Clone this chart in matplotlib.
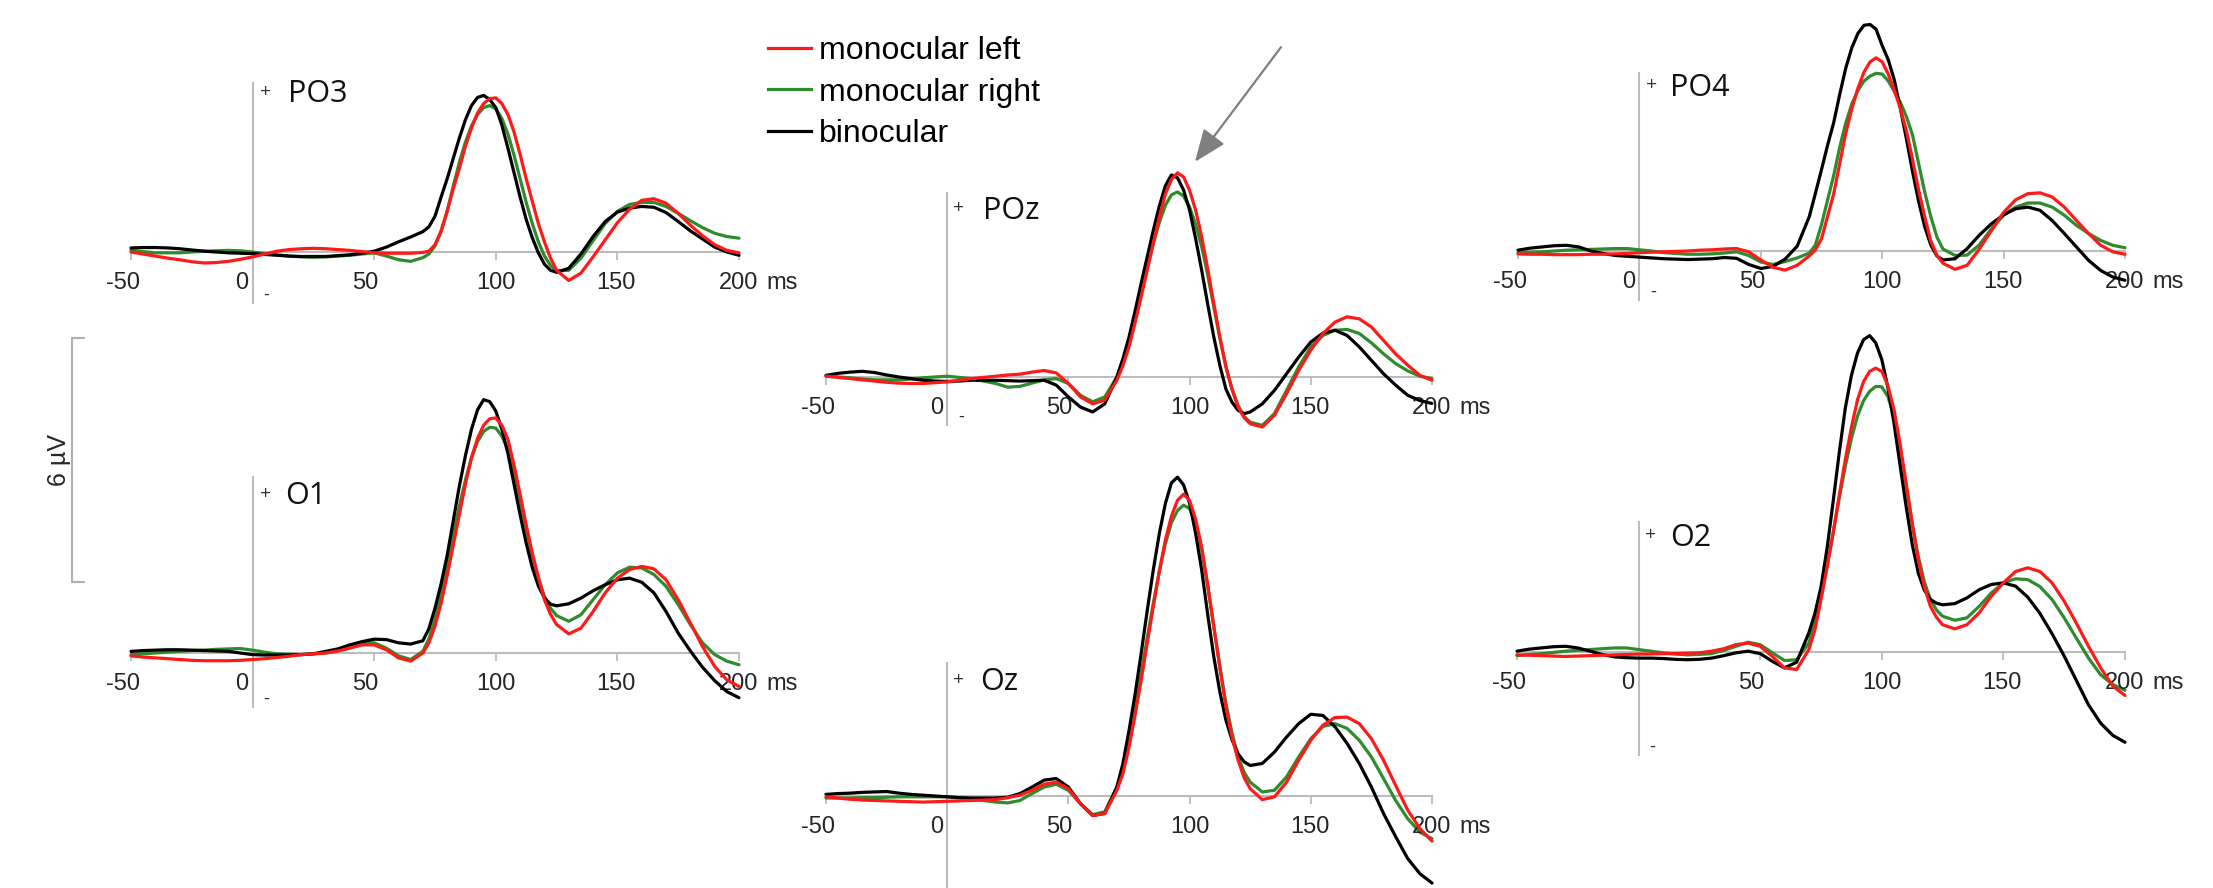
import matplotlib
matplotlib.use('Agg')
import matplotlib.pyplot as plt
from matplotlib.lines import Line2D

W, H = 2213, 888
PX_PER_UV = 40.67          # vertical scale shared by all panels

# ---------------- data (µV) ----------------
# 5 ms steps, 2.5 ms steps around the P1 peak (70-125 ms)
TIME_MS = ([-50, -45, -40, -35, -30, -25, -20, -15, -10, -5,
            0, 5, 10, 15, 20, 25, 30, 35, 40, 45, 50, 55, 60, 65]
           + [70, 72.5, 75, 77.5, 80, 82.5, 85, 87.5, 90, 92.5, 95, 97.5,
              100, 102.5, 105, 107.5, 110, 112.5, 115, 117.5, 120, 122.5, 125]
           + [130, 135, 140, 145, 150, 155, 160, 165, 170, 175, 180, 185, 190, 195, 200])
TICKS_MS = [-50, 0, 50, 100, 150, 200]
SCALE_UV = 6

PO3_LEFT = ([0.00, -0.05, -0.10, -0.15, -0.19, -0.24, -0.27, -0.26, -0.23, -0.18,
             -0.12, -0.05, 0.02, 0.06, 0.08, 0.09, 0.08, 0.06, 0.04, 0.01, -0.02, -0.03, -0.03, -0.03]
            + [-0.01, 0.02, 0.18, 0.50, 1.00, 1.55, 2.05, 2.60, 3.05, 3.42, 3.65, 3.77,
               3.79, 3.65, 3.38, 2.95, 2.40, 1.80, 1.25, 0.70, 0.25, -0.15, -0.45]
            + [-0.70, -0.52, -0.12, 0.30, 0.72, 1.05, 1.27, 1.31, 1.20, 0.95, 0.66, 0.40, 0.18, 0.04, -0.02])
PO3_RIGHT = ([0.04, 0.01, -0.02, -0.02, -0.02, 0.00, 0.02, 0.03, 0.04, 0.03,
              0.00, -0.04, -0.07, -0.10, -0.12, -0.13, -0.12, -0.10, -0.08, -0.05, -0.02, -0.10, -0.19, -0.23]
             + [-0.14, -0.05, 0.15, 0.52, 1.00, 1.62, 2.20, 2.70, 3.10, 3.38, 3.55, 3.60,
                3.52, 3.28, 2.90, 2.38, 1.80, 1.22, 0.70, 0.25, -0.10, -0.33, -0.46]
             + [-0.45, -0.15, 0.28, 0.70, 1.00, 1.17, 1.22, 1.22, 1.12, 0.95, 0.77, 0.60, 0.46, 0.38, 0.34])
PO3_BINO = ([0.10, 0.11, 0.11, 0.10, 0.08, 0.05, 0.02, 0.00, -0.02, -0.03,
             -0.04, -0.06, -0.08, -0.10, -0.11, -0.11, -0.11, -0.09, -0.07, -0.03, 0.02, 0.12, 0.25, 0.37]
            + [0.50, 0.62, 0.88, 1.35, 1.80, 2.30, 2.80, 3.25, 3.60, 3.80, 3.85, 3.75,
               3.55, 3.12, 2.55, 1.95, 1.35, 0.80, 0.35, -0.02, -0.30, -0.45, -0.50]
            + [-0.40, -0.05, 0.38, 0.75, 0.98, 1.08, 1.12, 1.10, 0.97, 0.75, 0.52, 0.32, 0.12, 0.00, -0.08])

O1_LEFT = ([-0.07, -0.10, -0.12, -0.14, -0.16, -0.18, -0.19, -0.19, -0.19, -0.18,
            -0.16, -0.14, -0.11, -0.08, -0.04, -0.02, 0.00, 0.05, 0.12, 0.20, 0.20, 0.08, -0.12, -0.20]
           + [0.00, 0.25, 0.66, 1.22, 1.90, 2.65, 3.40, 4.15, 4.80, 5.28, 5.60, 5.76,
              5.78, 5.60, 5.25, 4.62, 3.90, 3.15, 2.46, 1.85, 1.31, 0.95, 0.70]
           + [0.47, 0.61, 1.02, 1.48, 1.84, 2.05, 2.13, 2.07, 1.80, 1.31, 0.74, 0.16, -0.33, -0.66, -0.82])
O1_RIGHT = ([-0.04, -0.02, 0.00, 0.02, 0.04, 0.06, 0.07, 0.09, 0.10, 0.11,
             0.07, 0.02, -0.02, -0.03, -0.04, -0.02, 0.00, 0.05, 0.12, 0.25, 0.25, 0.12, -0.07, -0.16]
            + [0.04, 0.35, 0.82, 1.45, 2.13, 2.90, 3.60, 4.25, 4.80, 5.20, 5.45, 5.55,
               5.53, 5.33, 5.00, 4.42, 3.77, 3.05, 2.38, 1.85, 1.39, 1.10, 0.92]
            + [0.78, 0.94, 1.31, 1.68, 1.97, 2.11, 2.09, 1.93, 1.64, 1.19, 0.70, 0.25, -0.04, -0.20, -0.29])
O1_BINO = ([0.04, 0.06, 0.07, 0.08, 0.08, 0.07, 0.06, 0.05, 0.04, 0.00,
            -0.04, -0.05, -0.05, -0.05, -0.04, -0.02, 0.04, 0.10, 0.20, 0.28, 0.34, 0.33, 0.25, 0.22]
           + [0.30, 0.60, 1.10, 1.70, 2.40, 3.25, 4.10, 4.85, 5.50, 5.98, 6.23, 6.18,
              5.95, 5.50, 4.90, 4.15, 3.40, 2.70, 2.10, 1.65, 1.35, 1.20, 1.16]
           + [1.21, 1.35, 1.53, 1.68, 1.80, 1.84, 1.74, 1.48, 1.02, 0.49, 0.05, -0.35, -0.68, -0.95, -1.10])

POZ_LEFT = ([0.02, -0.01, -0.04, -0.07, -0.10, -0.13, -0.15, -0.16, -0.16, -0.14,
             -0.12, -0.08, -0.04, -0.01, 0.02, 0.05, 0.07, 0.12, 0.16, 0.10, -0.16, -0.49, -0.66, -0.57]
            + [-0.08, 0.28, 0.74, 1.33, 1.97, 2.62, 3.28, 3.92, 4.50, 4.85, 5.02, 4.92,
               4.59, 4.10, 3.44, 2.65, 1.80, 0.98, 0.25, -0.30, -0.74, -1.00, -1.15]
            + [-1.23, -0.94, -0.41, 0.16, 0.66, 1.07, 1.35, 1.48, 1.43, 1.23, 0.90, 0.57, 0.29, 0.04, -0.08])
POZ_RIGHT = ([0.02, 0.00, -0.02, -0.05, -0.07, -0.07, -0.07, -0.05, -0.02, 0.00,
              0.02, -0.01, -0.04, -0.10, -0.16, -0.25, -0.23, -0.15, -0.07, -0.04, -0.16, -0.45, -0.61, -0.49]
             + [0.00, 0.42, 0.90, 1.50, 2.13, 2.72, 3.28, 3.80, 4.22, 4.48, 4.55, 4.45,
                4.18, 3.75, 3.20, 2.50, 1.72, 0.95, 0.25, -0.30, -0.70, -0.97, -1.11]
             + [-1.19, -0.90, -0.33, 0.25, 0.74, 1.02, 1.15, 1.17, 1.07, 0.84, 0.57, 0.33, 0.15, 0.02, -0.04])
POZ_BINO = ([0.04, 0.09, 0.12, 0.14, 0.11, 0.05, 0.00, -0.04, -0.08, -0.10,
             -0.11, -0.10, -0.08, -0.08, -0.08, -0.09, -0.10, -0.09, -0.08, -0.20, -0.49, -0.74, -0.86, -0.66]
            + [0.00, 0.45, 0.98, 1.62, 2.30, 2.95, 3.60, 4.20, 4.70, 4.97, 4.90, 4.60,
               4.10, 3.40, 2.62, 1.78, 0.98, 0.28, -0.30, -0.62, -0.82, -0.90, -0.86]
            + [-0.66, -0.33, 0.08, 0.49, 0.86, 1.08, 1.15, 1.02, 0.74, 0.41, 0.08, -0.20, -0.45, -0.58, -0.65])

OZ_LEFT = ([-0.02, -0.05, -0.08, -0.10, -0.11, -0.12, -0.13, -0.14, -0.15, -0.14,
            -0.13, -0.12, -0.11, -0.10, -0.09, -0.04, 0.02, 0.14, 0.29, 0.34, 0.18, -0.19, -0.48, -0.43]
           + [0.14, 0.55, 1.20, 1.98, 2.84, 3.75, 4.65, 5.52, 6.29, 6.88, 7.27, 7.42,
              7.27, 6.80, 6.12, 5.18, 4.16, 3.15, 2.19, 1.45, 0.88, 0.45, 0.18]
           + [-0.09, -0.02, 0.34, 0.88, 1.37, 1.74, 1.93, 1.94, 1.78, 1.41, 0.88, 0.26, -0.35, -0.80, -1.11])
OZ_RIGHT = ([-0.05, -0.05, -0.05, -0.04, -0.04, -0.03, -0.02, -0.02, -0.02, -0.02,
             -0.02, -0.04, -0.07, -0.11, -0.15, -0.17, -0.11, 0.06, 0.22, 0.29, 0.14, -0.19, -0.46, -0.39]
            + [0.22, 0.72, 1.37, 2.15, 3.00, 3.88, 4.73, 5.52, 6.20, 6.72, 7.02, 7.15,
               7.07, 6.68, 6.04, 5.15, 4.16, 3.18, 2.27, 1.55, 0.96, 0.58, 0.34]
            + [0.10, 0.14, 0.47, 0.96, 1.41, 1.71, 1.78, 1.66, 1.37, 0.96, 0.43, -0.11, -0.56, -0.89, -1.05])
OZ_BINO = ([0.04, 0.06, 0.07, 0.09, 0.10, 0.11, 0.07, 0.04, 0.02, 0.00,
            -0.02, -0.04, -0.05, -0.05, -0.05, -0.03, 0.06, 0.22, 0.39, 0.43, 0.22, -0.19, -0.48, -0.43]
           + [0.22, 0.80, 1.61, 2.50, 3.50, 4.55, 5.55, 6.45, 7.19, 7.70, 7.84, 7.65,
              7.20, 6.45, 5.55, 4.45, 3.42, 2.55, 1.86, 1.38, 1.04, 0.84, 0.75]
           + [0.80, 1.08, 1.45, 1.78, 2.01, 1.98, 1.70, 1.29, 0.80, 0.22, -0.43, -1.00, -1.54, -1.91, -2.14])

PO4_LEFT = ([-0.07, -0.08, -0.08, -0.09, -0.09, -0.09, -0.08, -0.08, -0.07, -0.06,
             -0.04, -0.03, -0.02, -0.01, 0.00, 0.02, 0.03, 0.05, 0.06, -0.02, -0.22, -0.40, -0.47, -0.35]
            + [-0.12, 0.03, 0.30, 0.85, 1.40, 2.15, 2.90, 3.50, 4.00, 4.40, 4.65, 4.75,
               4.65, 4.35, 3.95, 3.50, 2.95, 2.25, 1.50, 0.85, 0.25, -0.10, -0.30]
            + [-0.45, -0.35, 0.05, 0.50, 0.95, 1.26, 1.41, 1.43, 1.33, 1.08, 0.75, 0.43, 0.14, -0.02, -0.08])
PO4_RIGHT = ([-0.05, -0.03, -0.02, 0.00, 0.02, 0.03, 0.04, 0.05, 0.06, 0.06,
              0.03, 0.00, -0.04, -0.06, -0.08, -0.08, -0.07, -0.05, -0.02, -0.11, -0.27, -0.33, -0.26, -0.17]
             + [-0.05, 0.15, 0.65, 1.25, 1.85, 2.55, 3.15, 3.62, 3.95, 4.18, 4.30, 4.37,
                4.35, 4.18, 3.92, 3.65, 3.30, 2.85, 2.15, 1.45, 0.85, 0.35, 0.05]
             + [-0.11, -0.10, 0.15, 0.55, 0.88, 1.08, 1.18, 1.18, 1.08, 0.88, 0.63, 0.43, 0.26, 0.14, 0.08])
PO4_BINO = ([0.02, 0.07, 0.10, 0.13, 0.14, 0.10, 0.00, -0.06, -0.11, -0.13,
             -0.15, -0.17, -0.19, -0.20, -0.21, -0.20, -0.19, -0.16, -0.18, -0.33, -0.43, -0.38, -0.20, 0.12]
            + [0.85, 1.42, 2.00, 2.60, 3.15, 3.85, 4.50, 5.00, 5.35, 5.55, 5.57, 5.45,
               5.05, 4.70, 4.20, 3.50, 2.75, 1.95, 1.22, 0.60, 0.15, -0.12, -0.22]
            + [-0.19, 0.06, 0.39, 0.67, 0.89, 1.04, 1.08, 1.00, 0.75, 0.43, 0.10, -0.23, -0.48, -0.64, -0.72])

O2_LEFT = ([-0.07, -0.08, -0.09, -0.10, -0.11, -0.10, -0.09, -0.08, -0.07, -0.06,
            -0.05, -0.05, -0.04, -0.04, -0.03, -0.02, 0.02, 0.08, 0.18, 0.22, 0.14, -0.11, -0.39, -0.43]
           + [0.06, 0.55, 1.29, 2.08, 2.93, 3.85, 4.73, 5.52, 6.20, 6.65, 6.90, 6.98,
              6.90, 6.55, 5.96, 5.12, 4.16, 3.18, 2.27, 1.60, 1.12, 0.85, 0.67]
           + [0.57, 0.67, 0.96, 1.37, 1.70, 1.98, 2.07, 1.98, 1.70, 1.25, 0.71, 0.14, -0.39, -0.84, -1.07])
O2_RIGHT = ([-0.09, -0.06, -0.04, -0.01, 0.02, 0.04, 0.06, 0.08, 0.10, 0.10,
             0.06, 0.02, -0.02, -0.05, -0.07, -0.06, -0.04, 0.04, 0.14, 0.24, 0.18, -0.02, -0.21, -0.19]
            + [0.22, 0.72, 1.37, 2.12, 2.93, 3.78, 4.57, 5.25, 5.80, 6.18, 6.41, 6.53,
               6.52, 6.28, 5.80, 5.00, 4.07, 3.15, 2.35, 1.72, 1.29, 1.03, 0.88]
            + [0.78, 0.84, 1.12, 1.45, 1.70, 1.80, 1.78, 1.61, 1.29, 0.84, 0.34, -0.15, -0.56, -0.80, -0.94])
O2_BINO = ([0.02, 0.07, 0.10, 0.13, 0.14, 0.10, 0.02, -0.06, -0.12, -0.14,
            -0.15, -0.15, -0.16, -0.18, -0.19, -0.18, -0.15, -0.09, -0.02, 0.02, -0.04, -0.23, -0.39, -0.25]
           + [0.47, 0.95, 1.60, 2.55, 3.70, 4.90, 6.00, 6.80, 7.35, 7.68, 7.78, 7.60,
              7.19, 6.50, 5.63, 4.60, 3.58, 2.65, 1.94, 1.52, 1.29, 1.20, 1.16]
           + [1.19, 1.33, 1.53, 1.66, 1.70, 1.62, 1.35, 0.95, 0.45, -0.10, -0.70, -1.30, -1.75, -2.05, -2.22])

SERIES = {
    'PO3': (PO3_LEFT, PO3_RIGHT, PO3_BINO),
    'O1': (O1_LEFT, O1_RIGHT, O1_BINO),
    'POz': (POZ_LEFT, POZ_RIGHT, POZ_BINO),
    'Oz': (OZ_LEFT, OZ_RIGHT, OZ_BINO),
    'PO4': (PO4_LEFT, PO4_RIGHT, PO4_BINO),
    'O2': (O2_LEFT, O2_RIGHT, O2_BINO),
}
CONDITIONS = ['monocular left', 'monocular right', 'binocular']

# ---------------- layout (pixels in the 2213x888 canvas) ----------------
# x0/x1: pixel x of -50 / 200 ms, yb: baseline, top/bot: ends of the vertical axis
PANELS = {
    'PO3': dict(x0=131, x1=739, yb=252, top=83, bot=303, plus=(13, -9), name=(35, -11), minus=True),
    'O1': dict(x0=131, x1=739, yb=653, top=477, bot=707, plus=(13, -17), name=(33, -19), minus=True),
    'POz': dict(x0=826, x1=1432, yb=377, top=193, bot=425, plus=(11, -15), name=(36, -18), minus=True),
    'Oz': dict(x0=826, x1=1432, yb=796, top=663, bot=900, plus=(11, -17), name=(33, -19), minus=False),
    'PO4': dict(x0=1518, x1=2125, yb=251, top=73, bot=300, plus=(12, -12), name=(31, -15), minus=True),
    'O2': dict(x0=1517, x1=2125, yb=652, top=522, bot=755, plus=(12, -13), name=(32, -16), minus=True),
}
LABEL_DX = {-50: -8, 0: -4, 50: -9, 100: 0, 150: -1, 200: 0}

COLORS = ['#ff1a1a', '#2e8b2e', '#000000']
ZORDERS = [5, 3, 4]
AXIS_GRAY = '#bcbcbc'
TICK_FONT = 'Liberation Sans'
NAME_FONT = 'Open Sans'

fig = plt.figure(figsize=(W / 100, H / 100), dpi=100)

YLO, YHI = -3.0, 9.0
axes = {}
for name, g in PANELS.items():
    left = g['x0'] / W
    width = (g['x1'] - g['x0']) / W
    bottom = (H - (g['yb'] - YLO * PX_PER_UV)) / H
    height = (YHI - YLO) * PX_PER_UV / H
    ax = fig.add_axes([left, bottom, width, height])
    ax.patch.set_visible(False)
    ax.set_xlim(-50, 200)
    ax.set_ylim(YLO, YHI)
    axes[name] = ax

    top_uv = (g['yb'] - g['top']) / PX_PER_UV
    bot_uv = (g['yb'] - g['bot']) / PX_PER_UV

    for side in ['top', 'right']:
        ax.spines[side].set_visible(False)
    ax.spines['left'].set_position(('data', 0))
    ax.spines['left'].set_bounds(bot_uv, top_uv)
    ax.spines['bottom'].set_position(('data', 0))
    ax.spines['bottom'].set_bounds(-50, 200)
    for side in ['left', 'bottom']:
        ax.spines[side].set_color(AXIS_GRAY)
        ax.spines[side].set_linewidth(1.5)
    ax.set_yticks([])
    ax.set_xticks(TICKS_MS)
    ax.set_xticklabels([])
    ax.tick_params(axis='x', direction='out', length=6, width=1.3, color=AXIS_GRAY)

    for vals, col, z in zip(SERIES[name], COLORS, ZORDERS):
        ax.plot(TIME_MS, vals, color=col, lw=2.3, zorder=z, clip_on=False,
                solid_capstyle='round', solid_joinstyle='round')

    for t in TICKS_MS:
        ha = 'right' if t == 0 else 'center'
        ax.annotate(str(t), xy=(t, 0), xytext=(LABEL_DX[t], -37), textcoords='offset pixels',
                    ha=ha, va='baseline', fontsize=17, family=TICK_FONT, color='#262626')
    ax.annotate('ms', xy=(200, 0), xytext=(27, -37), textcoords='offset pixels',
                ha='left', va='baseline', fontsize=17, family=TICK_FONT, color='#262626')

    ax.annotate('+', xy=(0, top_uv), xytext=g['plus'], textcoords='offset pixels',
                ha='center', va='center', fontsize=14, family=NAME_FONT, color='#333333')
    ax.annotate(name, xy=(0, top_uv), xytext=g['name'], textcoords='offset pixels',
                ha='left', va='center', fontsize=22, family=NAME_FONT, color='#111111')
    if g['minus']:
        ax.annotate('-', xy=(0, bot_uv), xytext=(14, 8), textcoords='offset pixels',
                    ha='center', va='center', fontsize=13, family=NAME_FONT, color='#333333')

# arrow pointing at the POz peak
ARROW_TIP = (102.2, 5.29)
ARROW_TAIL = (137.7, 8.11)
axes['POz'].annotate('', xy=ARROW_TIP, xytext=ARROW_TAIL, annotation_clip=False,
                     arrowprops=dict(arrowstyle='-|>,head_length=0.5,head_width=0.2',
                                     color='#7f7f7f', lw=1.6, mutation_scale=40,
                                     shrinkA=0, shrinkB=0))

# 6 µV scale bar
bar_bottom_px = 582
sb = fig.add_axes([72 / W, (H - bar_bottom_px) / H, 0.01, SCALE_UV * PX_PER_UV / H])
sb.patch.set_visible(False)
sb.set_ylim(0, SCALE_UV)
sb.set_xlim(0, 1)
for side in ['top', 'right', 'bottom']:
    sb.spines[side].set_visible(False)
sb.spines['left'].set_color('#b0b0b0')
sb.spines['left'].set_linewidth(1.5)
sb.set_xticks([])
sb.set_yticks([0, SCALE_UV])
sb.set_yticklabels([])
sb.tick_params(axis='y', direction='in', length=9, width=1.5, color='#b0b0b0')
sb.annotate(f'{SCALE_UV} µV', xy=(0, SCALE_UV / 2), xytext=(-13, 0), textcoords='offset pixels',
            ha='center', va='center', rotation=90, fontsize=18, family=TICK_FONT, color='#262626')

# legend
handles = [Line2D([], [], color=c, lw=2.3) for c in COLORS]
fig.legend(handles, CONDITIONS, loc='upper left', bbox_to_anchor=(768 / W, 1 - 36 / H),
           frameon=False, prop={'family': TICK_FONT, 'size': 23},
           handlelength=1.35, handletextpad=0.25, labelspacing=0.36,
           borderpad=0, borderaxespad=0)

fig.savefig('out.png', dpi=100)
